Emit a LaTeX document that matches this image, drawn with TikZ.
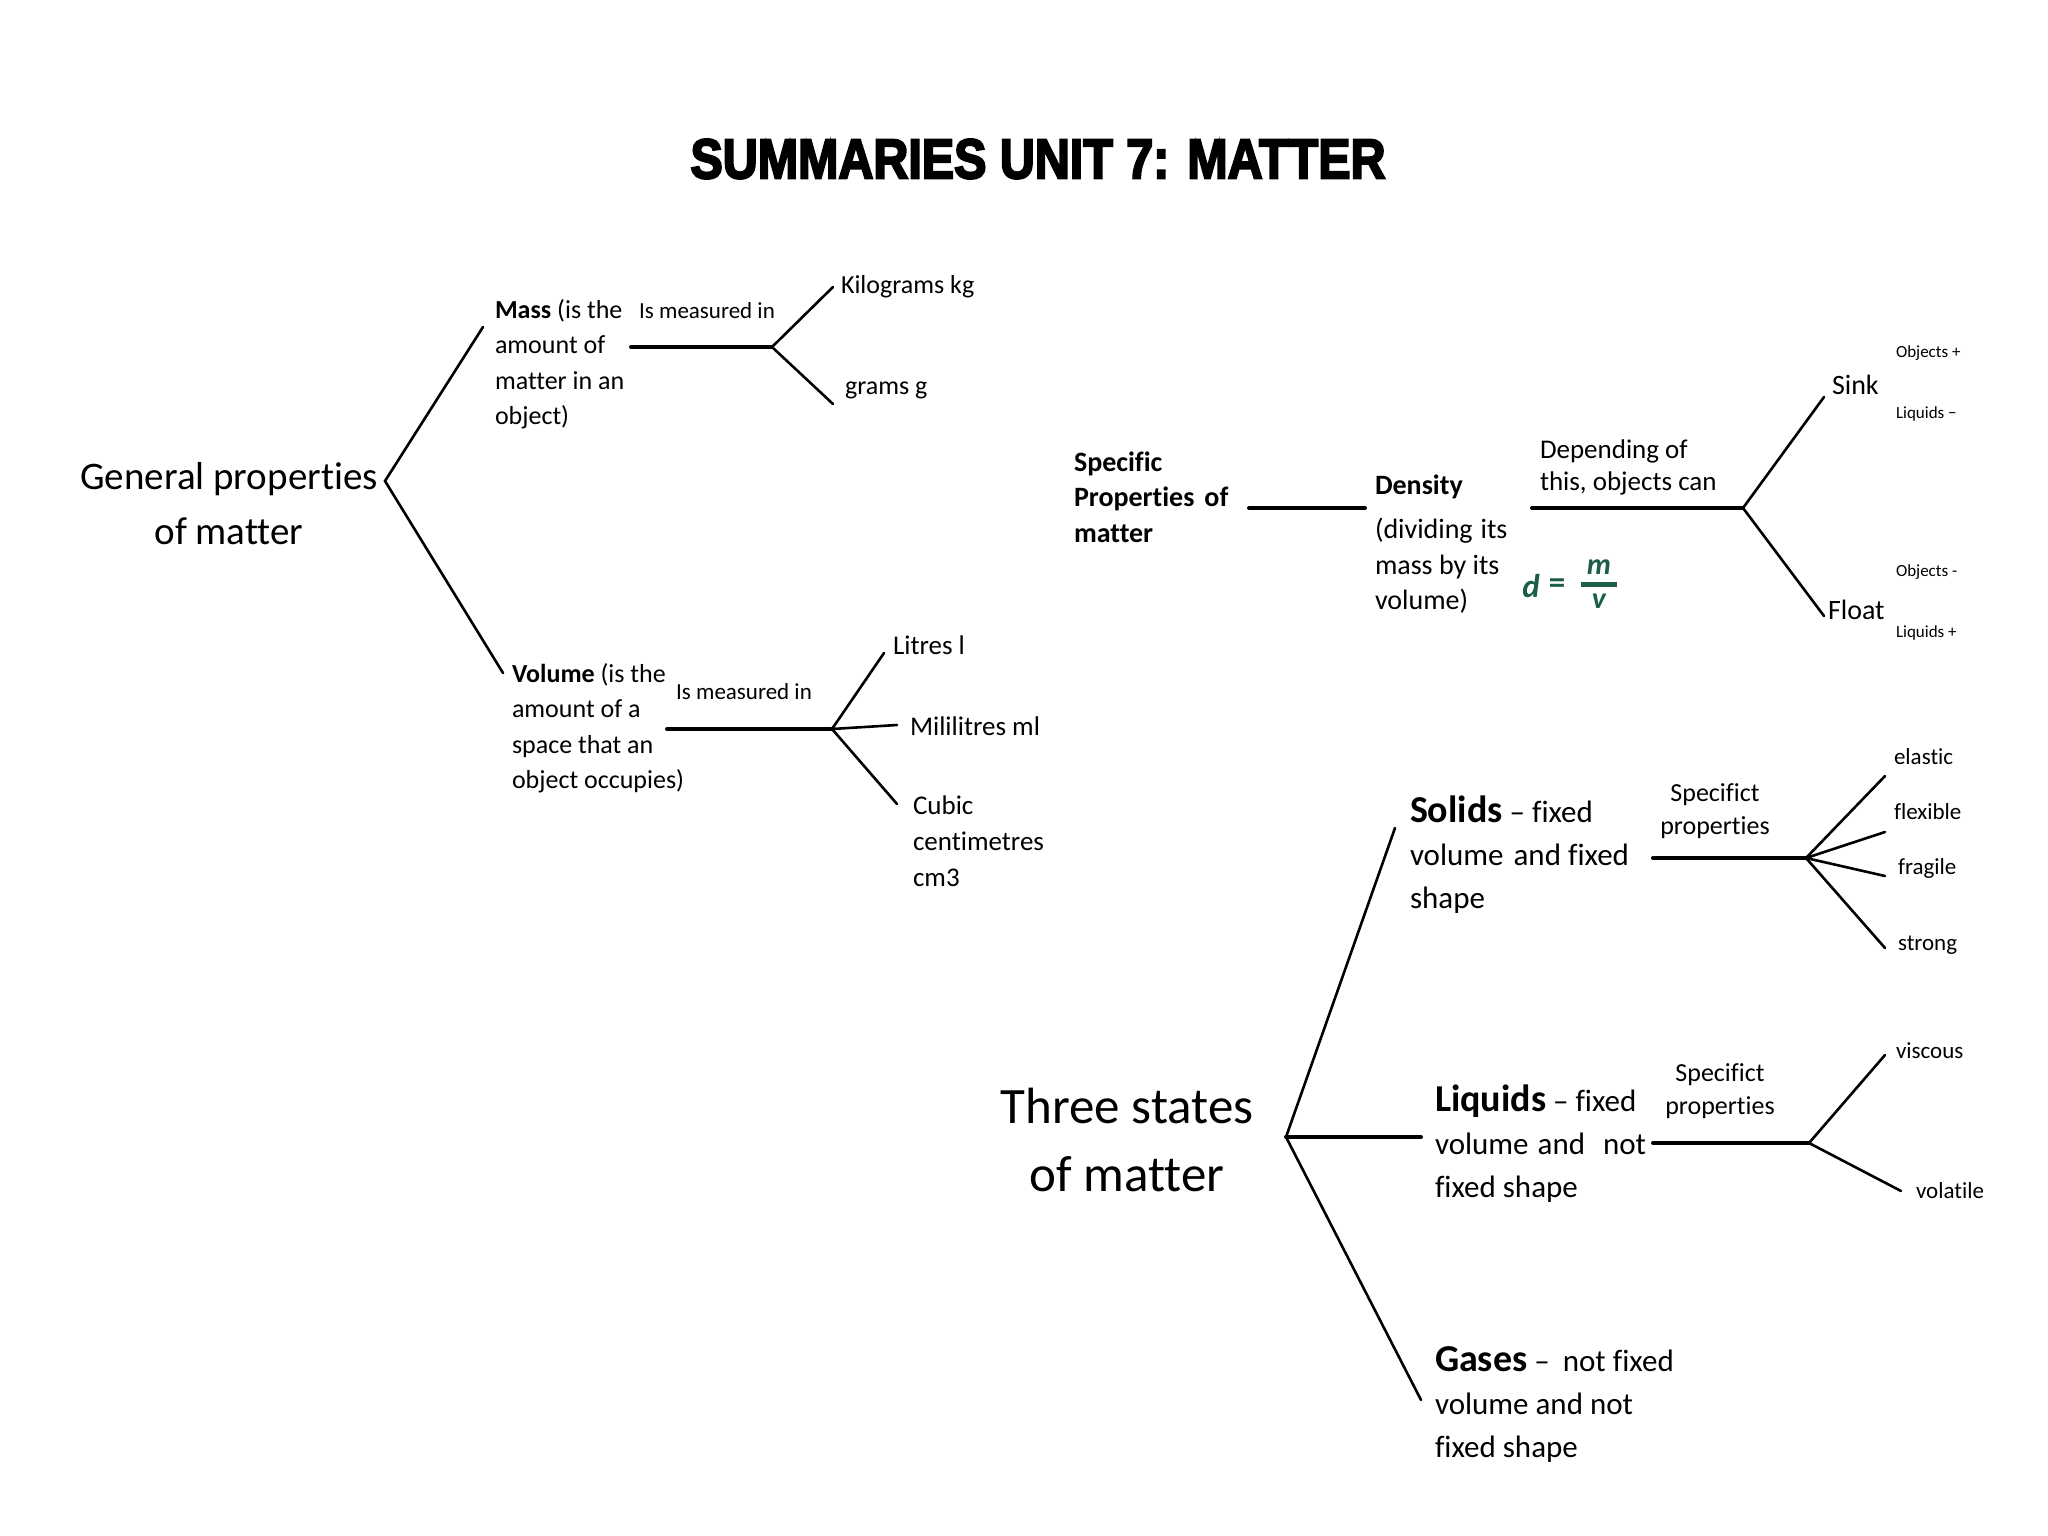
\documentclass[tikz,border=0pt]{standalone}
\usepackage{fontspec}
\setmainfont{Carlito}[Ligatures={NoCommon}]
\newfontfamily\titlefont{Liberation Sans}[BoldFeatures={FakeBold=4}]
\definecolor{formulagreen}{RGB}{28,92,74}
\tikzset{
  every node/.style={inner sep=0pt, outer sep=0pt},
  txt/.style={anchor=west, align=left},
  thinline/.style={line width=2.6pt, line cap=round},
  thickline/.style={line width=4pt, line cap=round},
}
\newcommand{\fs}[2]{\fontsize{#1}{#2}\selectfont}
\begin{document}
\begin{tikzpicture}[x=1pt,y=-1pt]
\fill[white] (0,0) rectangle (2048,1536);
\useasboundingbox (0,0) rectangle (2048,1536);

% title
\node (title) at (1038,159) {\resizebox{695pt}{39pt}{\titlefont\bfseries SUMMARIES UNIT 7: MATTER}};

% ---------- General properties ----------
\node[align=center, font=\fs{39}{55}] (gp) at (229,504) {General properties\\of matter};
\coordinate (j0) at (385,481);
\coordinate (m1) at (483,327);
\coordinate (v1) at (503,673);
\draw[thinline] (m1) -- (j0) -- (v1);

\node[txt, font=\fs{26}{35.5}] (mass) at (495,364) {\textbf{Mass} (is the\\amount of\\matter in an\\object)};
\node[font=\fs{23}{28}] (meas1) at (707,311) {Is measured in};
\coordinate (mh0) at (631,347);
\coordinate (mh1) at (772,347);
\coordinate (kg) at (833,287);
\coordinate (gr) at (833,404);
\draw[thickline] (mh0) -- (mh1);
\draw[thinline] (kg) -- (mh1) -- (gr);
\node[txt, font=\fs{26}{32}] (kilo) at (841,287) {Kilograms kg};
\node[txt, font=\fs{26}{32}] (grams) at (845,390) {grams g};

\node[txt, font=\fs{26}{35.5}] (vol) at (512,728) {\textbf{Volume} (is the\\amount of a\\space that an\\object occupies)};
\node[font=\fs{23}{28}] (meas2) at (744,692) {Is measured in};
\coordinate (vh0) at (667,729);
\coordinate (vh1) at (832,729);
\coordinate (li) at (884,653);
\coordinate (ml) at (897,725);
\coordinate (cc) at (897,804);
\draw[thickline] (vh0) -- (vh1);
\draw[thinline] (li) -- (vh1) -- (cc);
\draw[thinline] (vh1) -- (ml);
\node[txt, font=\fs{27}{36}] (litres) at (893,645) {Litres l};
\node[txt, font=\fs{27}{36}] (mili) at (910,726) {Mililitres ml};
\node[txt, font=\fs{27}{36}] (cubic) at (913,841) {Cubic\\centimetres\\cm3};

% ---------- Specific properties / density ----------
\node[txt, font=\bfseries\fs{28}{35.5}] (spec) at (1074,497) {Specific\\Properties\hspace{10pt}of\\matter};
\coordinate (sp0) at (1249,508);
\coordinate (sp1) at (1365,508);
\draw[thickline] (sp0) -- (sp1);
\node[txt, font=\bfseries\fs{28}{35}] (dens) at (1375,487) {Density};
\node[txt, font=\fs{28}{35.5}] (densd) at (1375,566) {(dividing\hspace{8pt}its\\mass by its\\volume)};
\node[font=\bfseries\itshape\fs{33}{33}, text=formulagreen] (dsym) at (1531,586) {d};
\node[font=\bfseries\fs{33}{33}, text=formulagreen] (eq) at (1557,586) {=};
\node[font=\bfseries\itshape\fs{30}{30}, text=formulagreen] (mnum) at (1599,567) {m};
\node[font=\bfseries\itshape\fs{30}{30}, text=formulagreen] (vden) at (1599,601) {v};
\coordinate (bar0) at (1581,584);
\coordinate (bar1) at (1617,584);
\draw[formulagreen, line width=5pt] (bar0) -- (bar1);

\node[txt, font=\fs{27}{32}] (dep) at (1540,467) {Depending of\\this, objects can};
\coordinate (dh0) at (1532,508);
\coordinate (dh1) at (1743,508);
\coordinate (sk) at (1824,397);
\coordinate (fl) at (1824,616);
\draw[thickline] (dh0) -- (dh1);
\draw[thinline] (sk) -- (dh1) -- (fl);
\node[txt, font=\fs{28}{32}] (sink) at (1832,385) {Sink};
\node[txt, font=\fs{28}{32}] (float) at (1828,610) {Float};
\node[txt, font=\fs{17}{20}] (obj1) at (1896,353) {Objects +};
\node[txt, font=\fs{17}{20}] (liq1) at (1896,414) {Liquids \textminus};
\node[txt, font=\fs{17}{20}] (obj2) at (1896,572) {Objects -};
\node[txt, font=\fs{17}{20}] (liq2) at (1896,633) {Liquids +};

% ---------- Three states ----------
\node[align=center, font=\fs{51}{68}] (three) at (1127,1140) {Three states\\of matter};
\coordinate (ts) at (1286,1137);
\coordinate (so) at (1395,828);
\coordinate (lq) at (1421,1137);
\coordinate (ga) at (1421,1400);
\draw[thinline] (so) -- (ts) -- (ga);
\draw[thickline] (ts) -- (lq);

\node[txt, font=\fs{31}{43}] (solids) at (1410,855) {{\fs{38}{43}\bfseries Solids} \textendash{} fixed\\volume\hspace{10pt}and fixed\\shape};
\node[align=center, font=\fs{26}{33}] (sp1lab) at (1715,811) {Specifict\\properties};
\coordinate (sh0) at (1653,858);
\coordinate (sh1) at (1806,858);
\coordinate (el) at (1885,776);
\coordinate (fx) at (1885,832);
\coordinate (fg) at (1885,876);
\coordinate (st) at (1885,948);
\draw[thickline] (sh0) -- (sh1);
\draw[thinline] (el) -- (sh1) -- (st);
\draw[thinline] (fx) -- (sh1) -- (fg);
\node[txt, font=\fs{23}{28}] (elastic) at (1894,757) {elastic};
\node[txt, font=\fs{23}{28}] (flexible) at (1894,812) {flexible};
\node[txt, font=\fs{23}{28}] (fragile) at (1898,868) {fragile};
\node[txt, font=\fs{23}{28}] (strong) at (1898,945) {strong};

\node[txt, font=\fs{31}{43}] (liquids) at (1435,1144) {{\fs{38}{43}\bfseries Liquids} \textendash{} fixed\\volume\hspace{9pt}and\hspace{18pt}not\\fixed shape};
\node[align=center, font=\fs{26}{33}] (sp2lab) at (1720,1091) {Specifict\\properties};
\coordinate (lh0) at (1653,1143);
\coordinate (lh1) at (1809,1143);
\coordinate (vi) at (1885,1055);
\coordinate (vo) at (1901,1191);
\draw[thickline] (lh0) -- (lh1);
\draw[thinline] (vi) -- (lh1) -- (vo);
\node[txt, font=\fs{23}{28}] (viscous) at (1896,1051) {viscous};
\node[txt, font=\fs{23}{28}] (volatile) at (1916,1191) {volatile};

\node[txt, font=\fs{31}{43}] (gases) at (1435,1405) {{\fs{38}{43}\bfseries Gases} \textendash{}\hspace{6pt} not fixed\\volume and not\\fixed shape};
\end{tikzpicture}
\end{document}
